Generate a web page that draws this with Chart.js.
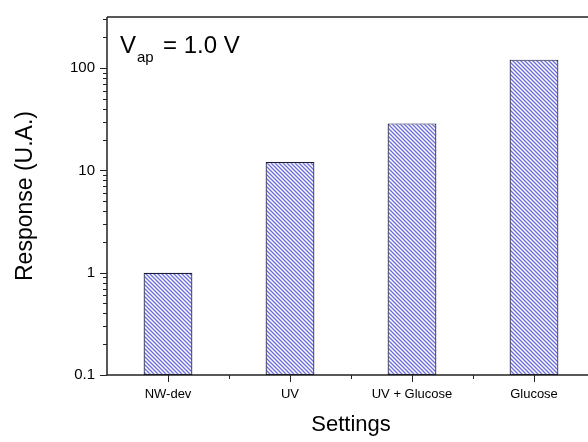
<!DOCTYPE html>
<html>
<head>
<meta charset="utf-8">
<script src="https://cdn.jsdelivr.net/npm/chart.js@4.4.0/dist/chart.umd.min.js"></script>
<style>
  html, body { margin: 0; padding: 0; background: #fff; overflow: hidden; }
  #wrap { width: 600px; height: 442px; }
</style>
</head>
<body>
<div id="wrap"><canvas id="chart" width="600" height="442"></canvas></div>
<script>
const categories = ["NW-dev", "UV", "UV + Glucose", "Glucose"];
const responses = [1.0, 12.1, 28.8, 121];
const yMin = 0.1;
const yMax = 316;
const decadeLabels = [0.1, 1, 10, 100];

// diagonal hatch fill like the original plot
function makeHatch() {
    const c = document.createElement("canvas");
    c.width = 4; c.height = 4;
    const g = c.getContext("2d");
    g.fillStyle = "#fff";
    g.fillRect(0, 0, 4, 4);
    g.strokeStyle = "#6c6cdc";
    g.lineWidth = 1.3;
    g.beginPath();
    g.moveTo(-1, -1); g.lineTo(5, 5);
    g.moveTo(-1, 3); g.lineTo(1, 5);
    g.moveTo(3, -1); g.lineTo(5, 1);
    g.stroke();
    return g.createPattern(c, "repeat");
}

const frameAndTicks = {
    id: "frameAndTicks",
    afterDraw(chart) {
        const ctx = chart.ctx;
        const a = chart.chartArea;
        const x = chart.scales.x, y = chart.scales.y;
        ctx.save();
        ctx.strokeStyle = "#222";
        ctx.lineWidth = 1.5;
        ctx.beginPath();
        ctx.moveTo(a.left, a.top); ctx.lineTo(a.right, a.top);
        ctx.moveTo(a.left, a.top); ctx.lineTo(a.left, a.bottom);
        ctx.moveTo(a.left, a.bottom); ctx.lineTo(a.right, a.bottom);
        ctx.stroke();
        ctx.lineWidth = 1;
        ctx.beginPath();
        // y ticks: majors and minors on log scale
        for (let d = -1; d <= 2; d++) {
            for (let m = 1; m <= 9; m++) {
                const v = m * Math.pow(10, d);
                if (v < yMin || v > yMax) continue;
                const py = Math.round(y.getPixelForValue(v)) + 0.5;
                const len = m === 1 ? 7 : 4;
                ctx.moveTo(a.left - len, py); ctx.lineTo(a.left, py);
            }
        }
        // x ticks: majors at categories, minors between
        categories.forEach((c, i) => {
            const px = Math.round(x.getPixelForValue(i)) + 0.5;
            ctx.moveTo(px, a.bottom); ctx.lineTo(px, a.bottom + 7);
            if (i > 0) {
                const mx = Math.round((x.getPixelForValue(i) + x.getPixelForValue(i - 1)) / 2) + 0.5;
                ctx.moveTo(mx, a.bottom); ctx.lineTo(mx, a.bottom + 4);
            }
        });
        ctx.stroke();
        // annotation V_ap = 1.0 V
        ctx.fillStyle = "#000";
        ctx.textBaseline = "alphabetic";
        ctx.font = "24px 'Liberation Sans', Arial, sans-serif";
        ctx.fillText("V", a.left + 13, a.top + 36);
        ctx.font = "15px 'Liberation Sans', Arial, sans-serif";
        ctx.fillText("ap", a.left + 30, a.top + 45);
        ctx.font = "24px 'Liberation Sans', Arial, sans-serif";
        ctx.fillText("= 1.0 V", a.left + 56, a.top + 36);
        ctx.restore();
    }
};

new Chart(document.getElementById("chart"), {
    type: "bar",
    data: {
        labels: categories,
        datasets: [{
            data: responses,
            backgroundColor: makeHatch(),
            borderColor: "#1a1a3a",
            borderWidth: 1.2,
            borderSkipped: false,
            barPercentage: 0.4,
            categoryPercentage: 1.0
        }]
    },
    plugins: [frameAndTicks],
    options: {
        responsive: false,
        animation: false,
        layout: { padding: { left: 12, top: 17, right: 5, bottom: 4 } },
        plugins: { legend: { display: false }, tooltip: { enabled: false } },
        scales: {
            x: {
                offset: true,
                grid: { display: false, drawTicks: false },
                border: { display: false },
                ticks: {
                    padding: 12,
                    color: "#000",
                    font: { family: "'Liberation Sans', Arial, sans-serif", size: 13 },
                    maxRotation: 0
                },
                title: {
                    display: true,
                    text: "Settings",
                    color: "#000",
                    padding: { top: 6, bottom: 0 },
                    font: { family: "'Liberation Sans', Arial, sans-serif", size: 22 }
                },
                afterFit(s) { s.height = 63; s.paddingLeft = 0; s.paddingRight = 0; }
            },
            y: {
                type: "logarithmic",
                min: yMin,
                max: yMax,
                grid: { display: false, drawTicks: false },
                border: { display: false },
                afterBuildTicks(s) { s.ticks = decadeLabels.map(v => ({ value: v })); },
                ticks: {
                    padding: 12,
                    color: "#000",
                    font: { family: "'Liberation Sans', Arial, sans-serif", size: 15 },
                    callback: v => String(v)
                },
                title: {
                    display: true,
                    text: "Response (U.A.)",
                    color: "#000",
                    padding: { top: 0, bottom: 0 },
                    font: { family: "'Liberation Sans', Arial, sans-serif", size: 23 }
                },
                afterFit(s) { s.width = 95; s.paddingTop = 0; s.paddingBottom = 0; }
            }
        }
    }
});
</script>
</body>
</html>
